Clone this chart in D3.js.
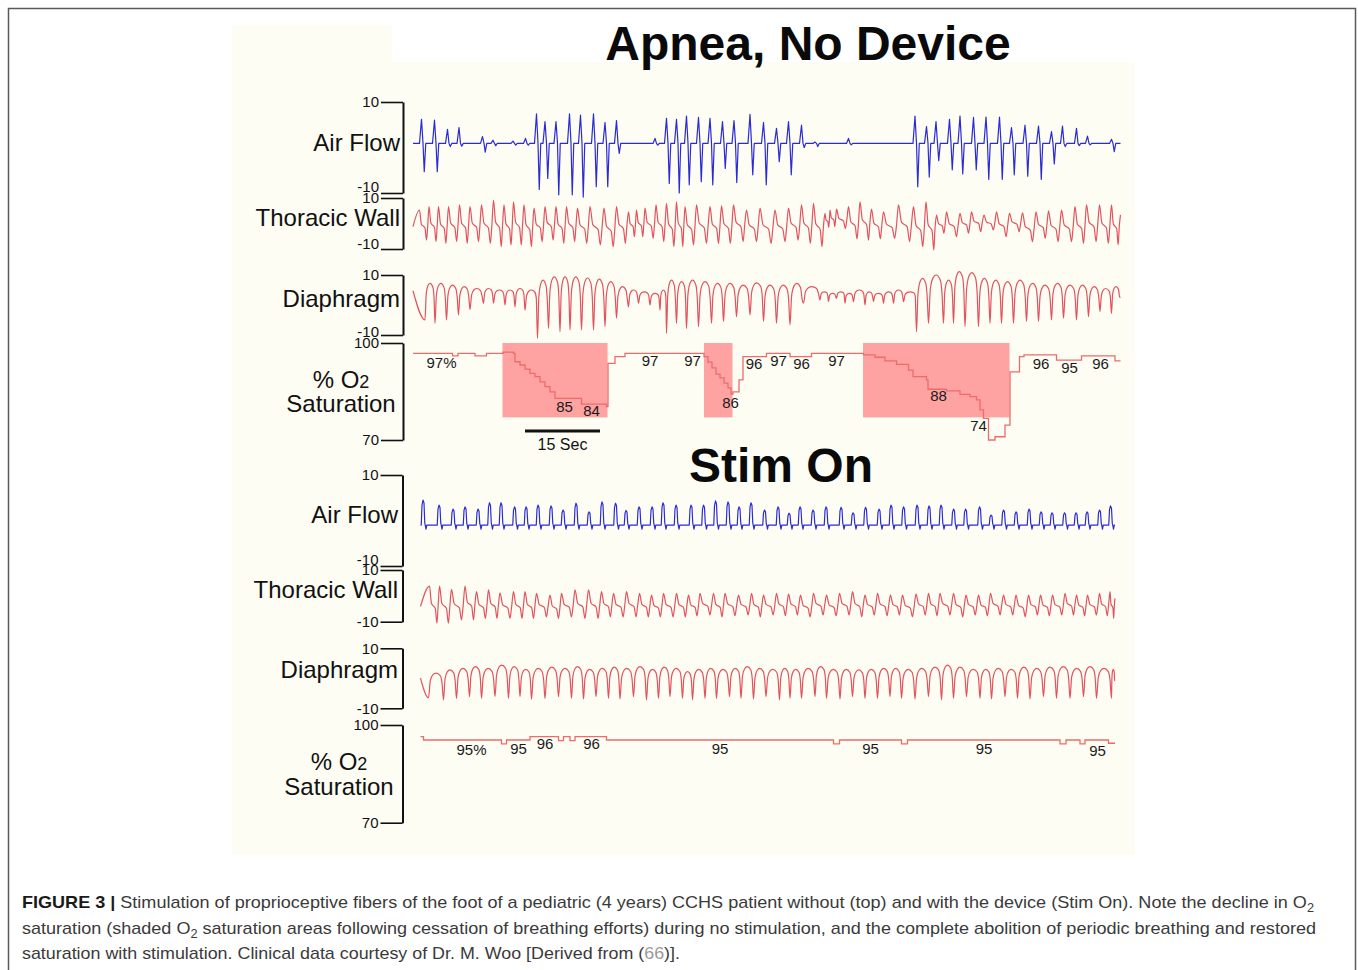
<!DOCTYPE html>
<html>
<head>
<meta charset="utf-8">
<script src="https://cdn.jsdelivr.net/npm/d3@7"></script>
<style>
  body { margin: 0; background: #fff; }
  svg { display: block; }
  text { font-family: "Liberation Sans", Arial, Helvetica, sans-serif; }
</style>
</head>
<body>
<div id="chart"></div>
<script>
// time is in seconds from the left edge of the recording,
// breathing channels in trace units (-10..10), saturation in %

const channelNames = ["Air Flow", "Thoracic Wall", "Diaphragm"];
const channelTicks = [-10, 10];
const o2Ticks = [70, 100];
const sectionTitles = ["Apnea, No Device", "Stim On"];

// ---- Apnea, no device ----
// air flow breaths: [time of inspiratory spike, spike top, expiratory spike]
const apneaAirBase = 0.9;
const apneaAir = [
  [1.7, 6.2, -5.3], [4.3, 6.0, -5.3], [6.9, 4.0, 0.2], [9.2, 4.4, 0.3], [13.9, 2.4, -1.0],
  [16.0, 1.6, 0.4], [20.0, 1.4, 0.5], [22.5, 2.0, 0.5],
  [24.7, 7.4, -9.2], [26.4, 5.7, -6.8], [28.6, 5.7, -10.4], [31.3, 7.4, -10.4], [33.5, 7.1, -10.9],
  [36.1, 7.4, -8.6], [38.4, 5.5, -8.6], [40.7, 5.9, -1.3], [48.4, 2.0, 0.5],
  [50.7, 6.4, -7.9], [52.7, 6.2, -10.0], [54.7, 6.9, -8.2], [57.1, 6.6, -7.5], [59.4, 6.4, -8.2],
  [61.9, 5.7, -4.6], [64.2, 5.9, -7.7], [67.4, 7.3, -6.0], [70.1, 5.5, -8.2], [72.7, 4.2, -3.1],
  [75.1, 5.7, -6.0], [77.7, 4.9, 0.0], [80.4, 1.2, 0.2], [87.1, 2.0, 0.6],
  [100.4, 6.9, -8.6], [102.7, 4.6, -6.5], [104.6, 5.7, -2.9], [107.3, 6.2, -4.9], [109.4, 6.9, -5.8],
  [112.1, 6.6, -4.9], [114.6, 6.7, -7.0], [117.3, 6.7, -7.0], [119.7, 4.4, -6.0], [122.4, 4.9, -6.3],
  [125.1, 4.7, -7.0], [127.7, 3.5, -3.6], [129.9, 4.7, 0.2], [132.7, 4.2, 0.4], [134.9, 2.5, 0.6],
  [139.7, 1.8, -0.9]
];
// thoracic wall cycles: [time of peak, peak, trough]
const apneaChest = [
  [1.3, 5.3, -6.5], [3.2, 6.6, -7.1], [5.1, 6.6, -7.8], [7.1, 6.6, -7.1], [9.3, 7.3, -7.8],
  [11.4, 6.6, -7.1], [13.7, 7.3, -7.8], [16.1, 9.2, -9.1], [18.2, 7.3, -8.4], [20.1, 8.5, -8.4],
  [22.2, 7.3, -9.1], [24.2, 6.0, -7.1], [26.4, 6.6, -6.5], [28.6, 6.6, -7.8], [30.7, 6.6, -7.1],
  [32.9, 6.0, -7.8], [35.4, 6.6, -8.4], [38.2, 6.0, -9.1], [40.7, 6.6, -7.8], [43.1, 4.6, -5.2],
  [44.7, 5.3, -5.2], [46.4, 6.0, -5.8], [48.6, 7.3, -7.1], [50.7, 7.9, -9.1], [52.7, 8.5, -9.1],
  [54.4, 6.6, -8.4], [56.7, 7.3, -7.8], [59.4, 6.6, -7.8], [61.7, 6.9, -7.8], [64.1, 7.3, -7.1],
  [66.7, 5.3, -7.1], [69.4, 6.0, -7.8], [72.4, 5.3, -7.1], [75.1, 6.0, -6.5], [77.7, 7.3, -7.8],
  [80.1, 7.9, -9.1], [82.4, 4.0, -1.5], [83.4, 5.3, -1.2], [84.7, 5.6, -2.0], [87.1, 6.6, -6.0],
  [89.4, 8.5, -6.5], [91.7, 5.6, -6.0], [94.1, 4.6, -5.8], [97.1, 7.3, -7.1], [100.1, 6.6, -9.1],
  [102.6, 8.5, -10.4], [104.7, 3.3, -3.8], [106.7, 4.6, -5.2], [109.4, 4.0, -3.8], [111.7, 4.6, -3.2],
  [114.2, 3.3, -2.5], [116.7, 4.6, -5.2], [119.3, 4.0, -3.2], [121.9, 4.2, -7.1], [124.6, 4.6, -5.8],
  [127.1, 5.0, -7.1], [129.7, 5.3, -7.1], [132.4, 6.6, -7.8], [134.7, 7.3, -7.1], [137.3, 7.3, -7.8],
  [139.7, 7.3, -8.4]
];
// diaphragm cycles: [time of trough, plateau top, trough]
const apneaDiaph = [
  [2.4, 7.2, -5.0], [4.4, 7.2, -6.1], [6.7, 6.6, -5.0], [9.1, 6.1, -3.3], [11.4, 5.5, -1.5],
  [14.1, 5.5, 0.6], [16.1, 5.0, 0.6], [18.4, 5.0, 0.0], [20.4, 5.5, -0.6], [22.4, 5.0, -1.7],
  [24.9, 8.3, -11.1], [27.1, 9.4, -7.8], [29.4, 9.4, -8.9], [31.4, 9.4, -8.3], [33.7, 9.0, -8.3],
  [36.1, 8.6, -8.3], [38.4, 7.8, -7.2], [40.7, 6.1, -4.4], [43.1, 5.0, -0.6], [45.1, 4.4, 0.6],
  [47.4, 3.9, 0.0], [49.4, 5.0, -1.7], [50.7, 8.3, -9.4], [52.7, 7.8, -6.1], [54.7, 8.3, -7.8],
  [57.1, 7.8, -7.2], [59.7, 7.2, -6.1], [62.1, 7.2, -5.5], [64.7, 6.6, -3.9], [67.4, 7.4, -3.3],
  [70.1, 6.6, -5.5], [72.7, 6.6, -6.1], [75.4, 7.2, -6.6], [78.1, 6.1, 0.6], [81.4, 4.4, 1.7],
  [83.1, 3.9, 1.1], [84.7, 4.4, 2.2], [86.4, 3.9, 0.6], [88.1, 5.0, 1.1], [90.4, 4.4, 0.0],
  [92.1, 3.9, 1.1], [94.1, 4.4, 0.6], [96.1, 5.0, 0.6], [98.1, 4.4, 1.1], [100.7, 8.9, -8.9],
  [103.1, 10.0, -6.1], [106.1, 8.3, -6.1], [108.1, 11.1, -6.1], [110.4, 10.8, -7.2], [113.1, 8.9, -7.2],
  [115.4, 8.3, -6.1], [117.7, 7.8, -6.1], [120.1, 8.3, -6.1], [122.7, 7.2, -5.5], [125.1, 6.6, -5.5],
  [127.7, 7.2, -5.0], [130.1, 6.6, -4.4], [132.7, 6.6, -5.0], [135.1, 6.1, -3.9], [137.4, 5.5, -2.2],
  [139.7, 6.1, -2.8]
];
// saturation steps: [time, %]
const apneaO2 = [
  [0, 96.8], [7.9, 96.0], [9.0, 96.8], [12.4, 96.0], [14.7, 96.8], [18.0, 97.2], [20.1, 96.8],
  [20.4, 94.2], [21.4, 93.2], [22.4, 91.9], [23.4, 90.6], [24.4, 89.6], [25.4, 88.0], [26.4, 86.5],
  [27.4, 84.9], [28.4, 82.9], [33.7, 81.1], [38.7, 80.3], [39.0, 93.7], [40.4, 95.8], [42.4, 96.8],
  [58.2, 95.8], [59.0, 94.1], [59.8, 92.3], [60.6, 90.4], [61.4, 89.2], [62.2, 87.6], [63.0, 86.1],
  [63.6, 84.2], [64.0, 84.9], [65.2, 88.6], [66.0, 95.8], [70.7, 96.8], [75.4, 95.8], [79.7, 96.8],
  [90.1, 96.3], [92.4, 95.6], [94.4, 94.5], [96.7, 93.4], [99.1, 91.6], [100.0, 89.6], [102.7, 88.6],
  [103.0, 85.7], [106.7, 85.2], [109.4, 84.1], [111.4, 83.4], [112.7, 82.4], [113.4, 79.3], [114.1, 76.7],
  [115.1, 70.0], [116.4, 71.0], [118.4, 74.6], [119.4, 91.1], [121.3, 95.8], [122.2, 96.3], [128.7, 94.7],
  [133.7, 96.0], [140.4, 94.5]
];
// desaturation windows: [start, end, lower %]
const apneaShaded = [[17.9, 38.9, 77.0], [58.2, 63.9, 77.0], [90.0, 119.3, 77.0]];
// saturation readings written on the trace: [time, %, text]
const apneaO2Labels = [
  [5.7, 93.9, "97%"], [30.3, 80.3, "85"], [35.7, 79.1, "84"], [47.4, 94.5, "97"], [55.9, 94.5, "97"],
  [63.5, 81.5, "86"], [68.2, 93.5, "96"], [73.1, 94.4, "97"], [77.7, 93.5, "96"], [84.7, 94.4, "97"],
  [105.1, 83.6, "88"], [113.1, 74.3, "74"], [125.6, 93.7, "96"], [131.3, 92.2, "95"], [137.5, 93.7, "96"]
];
const apneaSpan = [0, 141.5];
const scaleBar = [22.4, 37.4];   // 15 s

// ---- Stim on ----
const stimAirBase = -1.0;
// air flow breaths: [time of peak, peak]
const stimAir = [
  [2.1, 4.5], [5.3, 3.4], [8.1, 2.5], [10.5, 3.0], [13.1, 2.5], [15.4, 3.9], [17.7, 3.9], [20.4, 3.0],
  [22.7, 3.0], [25.1, 3.4], [27.7, 3.2], [30.1, 2.3], [32.7, 3.8], [35.3, 1.9], [37.9, 4.1], [40.6, 3.8],
  [42.7, 2.2], [45.3, 3.0], [47.9, 3.0], [50.1, 3.9], [52.7, 3.4], [55.7, 3.4], [58.2, 3.4], [60.6, 4.3],
  [63.1, 4.1], [65.3, 3.0], [67.7, 3.9], [70.4, 2.3], [73.1, 3.0], [75.3, 1.6], [77.5, 3.0], [80.1, 2.3],
  [82.7, 3.0], [85.7, 2.9], [88.1, 1.7], [90.6, 2.9], [93.3, 2.5], [95.7, 3.4], [98.2, 3.0], [100.9, 3.4],
  [103.3, 3.2], [105.7, 3.4], [108.2, 2.5], [110.6, 2.5], [113.4, 3.0], [115.7, 1.2], [118.2, 2.3],
  [120.7, 1.9], [123.3, 2.5], [125.7, 1.9], [127.9, 1.7], [130.4, 1.7], [132.7, 1.7], [134.9, 1.9],
  [137.4, 2.3], [139.6, 3.2]
];
const stimChest = [
  [3.3, 3.8, -10.6], [5.3, 3.8, -10.6], [7.7, 2.5, -9.3], [10.4, 3.8, -9.3], [12.7, 1.6, -8.7],
  [15.1, 2.3, -8.7], [17.4, 1.2, -8.7], [20.1, 1.6, -8.7], [22.4, 1.6, -8.7], [24.7, 1.0, -8.1],
  [27.4, 0.3, -8.7], [29.7, 1.0, -8.1], [32.4, 2.3, -8.7], [35.1, 2.3, -8.7], [37.7, 1.6, -8.1],
  [40.1, 1.0, -8.1], [42.7, 1.6, -8.1], [45.3, 1.0, -8.1], [47.7, 0.3, -8.1], [50.1, 1.0, -8.1],
  [52.7, 1.0, -8.1], [55.1, 0.3, -7.7], [57.4, 1.0, -7.4], [60.1, 1.0, -8.1], [62.4, 1.0, -7.7],
  [65.1, 0.3, -7.4], [67.7, 1.0, -8.1], [70.1, 0.3, -7.4], [72.7, 1.0, -7.7], [75.1, 0.7, -7.4],
  [77.5, 0.3, -8.1], [80.1, 1.0, -7.4], [82.7, 0.3, -7.7], [85.3, 1.0, -7.4], [87.9, 1.6, -8.1],
  [90.4, 0.3, -7.4], [92.9, 1.0, -7.7], [95.5, 0.3, -7.4], [97.9, 0.3, -8.1], [100.6, 0.7, -7.4],
  [103.1, 1.0, -7.7], [105.4, 1.0, -7.4], [108.1, 1.0, -8.1], [110.6, 0.3, -7.4], [113.1, 0.3, -7.7],
  [115.5, 1.0, -7.4], [118.1, 0.3, -7.4], [120.6, 0.3, -8.1], [123.1, 0.3, -7.4], [125.5, 0.3, -7.7],
  [127.9, 0.3, -7.4], [130.4, 1.0, -7.4], [132.7, 0.3, -7.7], [134.9, 0.3, -7.4], [137.3, 1.0, -7.7],
  [139.4, 1.6, -8.7]
];
const stimDiaph = [
  [3.1, 1.7, -6.5], [6.1, 2.8, -7.2], [8.7, 3.3, -6.7], [11.3, 3.9, -6.1], [13.7, 3.3, -6.7],
  [16.4, 4.4, -6.1], [19.1, 3.9, -6.7], [21.4, 3.0, -6.1], [23.7, 3.3, -7.0], [26.4, 3.7, -6.7],
  [29.1, 3.3, -6.1], [31.7, 3.9, -6.7], [34.1, 3.0, -6.9], [36.6, 3.3, -6.1], [39.1, 3.7, -6.7],
  [41.4, 3.3, -6.9], [44.1, 3.9, -6.1], [46.7, 3.0, -7.2], [49.1, 3.7, -6.7], [51.4, 3.3, -6.1],
  [53.9, 2.2, -6.7], [55.9, 3.0, -7.2], [58.4, 3.3, -6.7], [60.7, 3.0, -6.7], [63.3, 3.3, -6.1],
  [65.6, 3.9, -6.7], [68.1, 3.3, -6.9], [70.6, 3.0, -6.1], [73.3, 3.3, -7.2], [75.4, 3.0, -6.7],
  [77.7, 3.3, -6.7], [80.4, 3.9, -6.1], [82.7, 3.0, -6.7], [85.4, 3.0, -6.9], [87.9, 2.8, -6.1],
  [90.4, 3.0, -6.7], [92.9, 3.3, -6.7], [95.4, 3.3, -6.1], [97.7, 3.0, -6.7], [100.4, 3.3, -6.9],
  [103.1, 3.7, -6.1], [105.7, 4.4, -7.2], [108.1, 3.7, -6.7], [110.7, 3.0, -6.1], [113.4, 3.0, -6.7],
  [115.7, 3.3, -6.9], [118.4, 3.0, -6.1], [120.9, 3.7, -6.7], [123.4, 3.3, -6.9], [126.1, 3.7, -6.1],
  [128.7, 3.9, -6.7], [131.4, 3.3, -6.7], [134.1, 3.9, -6.1], [136.7, 3.3, -6.7], [139.7, 3.0, -6.7]
];
const stimO2 = [
  [1.5, 96.4], [2.1, 95.4], [17.7, 94.2], [18.7, 95.4], [23.4, 96.4], [29.1, 95.2], [30.1, 96.4],
  [31.4, 95.2], [32.4, 96.4], [38.7, 95.4], [84.1, 94.2], [85.3, 95.4], [97.7, 94.2], [98.9, 95.4],
  [129.4, 94.2], [130.6, 95.4], [133.4, 94.2], [134.4, 95.4], [139.1, 94.4]
];
const stimO2Labels = [
  [11.7, 92.5, "95%"], [21.1, 92.8, "95"], [26.4, 94.1, "96"], [35.7, 94.1, "96"],
  [61.4, 92.6, "95"], [91.5, 92.6, "95"], [114.2, 92.6, "95"], [136.9, 92.1, "95"]
];
const stimSpan = [1.5, 140.4];

// ---- layout (pixel ranges of each channel) ----
const sections = [
  { title: sectionTitles[0], titleX: 808, titleY: 60,
    air: [193, 102], chest: [249, 198], diaph: [335, 275], o2: [440, 343],
    lift: [6, 5, 3], labelY: [143, 218, 299], o2LabelX: 341, o2LabelY: [380, 404], labelRight: 400,
    airData: apneaAir, airBase: apneaAirBase, chestData: apneaChest, diaphData: apneaDiaph,
    o2Data: apneaO2, o2Labels: apneaO2Labels, shaded: apneaShaded, span: apneaSpan, axisX: 403 },
  { title: sectionTitles[1], titleX: 781, titleY: 482,
    air: [566, 475], chest: [621.7, 570], diaph: [708.3, 648.3], o2: [822.7, 725],
    lift: [6, 0, 0], labelY: [515, 590, 670], o2LabelX: 339, o2LabelY: [762, 787], labelRight: 398,
    airData: stimAir, airBase: stimAirBase, chestData: stimChest, diaphData: stimDiaph,
    o2Data: stimO2, o2Labels: stimO2Labels, shaded: [], span: stimSpan, axisX: 402.5 }
];

const width = 1358, height = 970;
const blue = "#2b2bd6", red = "#e2535e", o2Red = "#ec6c6c", shade = "#fea2a2", ink = "#111";

const svg = d3.select("#chart").append("svg")
  .attr("width", width)
  .attr("height", height);

svg.append("rect").attr("width", width).attr("height", height).attr("fill", "#fff");
// figure frame
svg.append("rect")
  .attr("x", 8.5).attr("y", 8.5).attr("width", 1347).attr("height", 990)
  .attr("fill", "none").attr("stroke", "#5a5a5a").attr("stroke-width", 1.5);
// cream backdrop of the scanned figure
svg.append("rect").attr("x", 232).attr("y", 62).attr("width", 903).attr("height", 793).attr("fill", "#fdfdf3");
svg.append("rect").attr("x", 232).attr("y", 25).attr("width", 160).attr("height", 38).attr("fill", "#fdfdf3");

const x = d3.scaleLinear().domain([0, 141.8]).range([413, 1122]);

// waveform shapes built from the per-breath readings
function airSpikes(events, base, span) {
  const pts = [[span[0], base]];
  events.forEach(([t, up, down]) => {
    pts.push([t - 0.4, base], [t, up], [t + 0.3, base], [t + 0.55, down], [t + 0.85, base]);
  });
  pts.push([span[1], base]);
  return pts;
}
function airPulses(events, base, span) {
  const pts = [[span[0], base]];
  events.forEach(([t, pk]) => {
    const h = pk - base;
    pts.push([t - 0.45, base], [t - 0.3, base + h * 0.8], [t - 0.1, pk], [t + 0.1, pk - h * 0.12],
      [t + 0.25, base + h * 0.1], [t + 0.35, base], [t + 0.5, base - 0.9], [t + 0.65, base]);
  });
  pts.push([span[1], base]);
  return pts;
}
function chestCycles(cycles, span) {
  const pts = [];
  cycles.forEach(([t, hi, lo], i) => {
    const p = (i < cycles.length - 1 ? cycles[i + 1][0] : span[1]) - t;
    const r = hi - lo, mid = lo + r * 0.45;
    if (i === 0) pts.push([span[0], mid]);
    pts.push([t, hi], [t + p * 0.2, mid + r * 0.08], [t + p * 0.58, mid - r * 0.05],
      [t + p * 0.74, lo], [t + p * 0.86, mid]);
    if (i === cycles.length - 1) pts.push([span[1], mid + r * 0.3]);
  });
  return pts;
}
function diaphCycles(cycles, span) {
  const pts = [];
  cycles.forEach(([t, top, lo], i) => {
    const p = (i < cycles.length - 1 ? cycles[i + 1][0] : span[1]) - t;
    const r = top - lo;
    if (i === 0) pts.push([span[0], top - r * 0.2]);
    pts.push([t, lo], [t + p * 0.12, top - r * 0.3], [t + p * 0.3, top - r * 0.06],
      [t + p * 0.5, top], [t + p * 0.78, top - r * 0.1], [t + p * 0.9, top - r * 0.38]);
  });
  const last = cycles[cycles.length - 1];
  pts.push([span[1], last[1] - (last[1] - last[2]) * 0.4]);
  return pts;
}

function bracket(g, scale, ticks, lift) {
  g.call(d3.axisLeft(scale).tickValues(ticks).tickSize(22).tickSizeOuter(0).tickPadding(2)
    .tickFormat(d => String(d)));
  g.attr("font-family", null).attr("font-size", 15);
  g.select(".domain").attr("stroke", ink).attr("stroke-width", 2);
  g.selectAll(".tick line").attr("stroke", ink).attr("stroke-width", 1.6);
  g.selectAll(".tick text").attr("fill", ink)
    .attr("dy", (d, i) => (i === 0 ? (0.32 - lift / 15) : 0.32) + "em");
}

sections.forEach(s => {
  const yAir = d3.scaleLinear().domain([-10, 10]).range(s.air);
  const yChest = d3.scaleLinear().domain([-10, 10]).range(s.chest);
  const yDiaph = d3.scaleLinear().domain([-10, 10]).range(s.diaph);
  const yO2 = d3.scaleLinear().domain([70, 100]).range(s.o2);
  const scales = [yAir, yChest, yDiaph];

  svg.append("text")
    .attr("x", s.titleX).attr("y", s.titleY)
    .attr("text-anchor", "middle")
    .attr("font-size", 48).attr("font-weight", "bold").attr("fill", "#0a0a0a")
    .text(s.title);

  // brackets and channel names
  scales.forEach((sc, i) => {
    bracket(svg.append("g").attr("transform", `translate(${s.axisX},0)`), sc, channelTicks, s.lift[i]);
    svg.append("text")
      .attr("x", s.labelRight).attr("y", s.labelY[i]).attr("dy", "0.35em")
      .attr("text-anchor", "end").attr("font-size", 24).attr("fill", ink)
      .text(channelNames[i]);
  });
  bracket(svg.append("g").attr("transform", `translate(${s.axisX},0)`), yO2, o2Ticks, 0);
  const o2a = svg.append("text")
    .attr("x", s.o2LabelX).attr("y", s.o2LabelY[0]).attr("dy", "0.35em")
    .attr("text-anchor", "middle").attr("font-size", 24).attr("fill", ink);
  o2a.append("tspan").text("% O");
  o2a.append("tspan").attr("font-size", 18).text("2");
  svg.append("text")
    .attr("x", s.o2LabelX).attr("y", s.o2LabelY[1]).attr("dy", "0.35em")
    .attr("text-anchor", "middle").attr("font-size", 24).attr("fill", ink)
    .text("Saturation");

  // desaturation shading
  svg.selectAll(null).data(s.shaded).enter().append("rect")
    .attr("x", d => x(d[0]))
    .attr("width", d => x(d[1]) - x(d[0]))
    .attr("y", yO2(100))
    .attr("height", d => yO2(d[2]) - yO2(100))
    .attr("fill", shade);

  // traces
  const airPts = s.airData[0].length === 3 ? airSpikes(s.airData, s.airBase, s.span)
                                           : airPulses(s.airData, s.airBase, s.span);
  svg.append("path")
    .attr("d", d3.line().x(d => x(d[0])).y(d => yAir(d[1]))(airPts))
    .attr("fill", "none").attr("stroke", blue).attr("stroke-width", 1.2).attr("stroke-linejoin", "round");

  svg.append("path")
    .attr("d", d3.line().x(d => x(d[0])).y(d => yChest(d[1])).curve(d3.curveMonotoneX)(chestCycles(s.chestData, s.span)))
    .attr("fill", "none").attr("stroke", red).attr("stroke-width", 1.2);

  svg.append("path")
    .attr("d", d3.line().x(d => x(d[0])).y(d => yDiaph(d[1])).curve(d3.curveMonotoneX)(diaphCycles(s.diaphData, s.span)))
    .attr("fill", "none").attr("stroke", red).attr("stroke-width", 1.2);

  const o2Pts = s.o2Data.concat([[s.span[1], s.o2Data[s.o2Data.length - 1][1]]]);
  svg.append("path")
    .attr("d", d3.line().x(d => x(d[0])).y(d => yO2(d[1])).curve(d3.curveStepAfter)(o2Pts))
    .attr("fill", "none").attr("stroke", o2Red).attr("stroke-width", 1.3);

  svg.selectAll(null).data(s.o2Labels).enter().append("text")
    .attr("x", d => x(d[0])).attr("y", d => yO2(d[1])).attr("dy", "0.35em")
    .attr("text-anchor", "middle").attr("font-size", 15).attr("fill", "#1a1a1a")
    .text(d => d[2]);

  if (s.shaded.length) {
    const yBar = yO2(72.8);
    svg.append("line")
      .attr("x1", x(scaleBar[0])).attr("x2", x(scaleBar[1]))
      .attr("y1", yBar).attr("y2", yBar)
      .attr("stroke", ink).attr("stroke-width", 3);
    svg.append("text")
      .attr("x", (x(scaleBar[0]) + x(scaleBar[1])) / 2).attr("y", yBar + 19)
      .attr("text-anchor", "middle").attr("font-size", 16).attr("fill", ink)
      .text((scaleBar[1] - scaleBar[0]) + " Sec");
  }
});

// caption
const cap = svg.append("g").attr("font-size", 17).attr("fill", "#3a3a3a");
const l1 = cap.append("text").attr("x", 22).attr("y", 908)
  .attr("textLength", 1292).attr("lengthAdjust", "spacingAndGlyphs");
l1.append("tspan").attr("font-weight", "bold").attr("fill", "#1a1a1a").text("FIGURE 3 |");
l1.append("tspan").text(" Stimulation of proprioceptive fibers of the foot of a pediatric (4 years) CCHS patient without (top) and with the device (Stim On). Note the decline in O");
l1.append("tspan").attr("font-size", 12).attr("dy", 4).text("2");

const l2 = cap.append("text").attr("x", 22).attr("y", 934)
  .attr("textLength", 1294).attr("lengthAdjust", "spacingAndGlyphs");
l2.append("tspan").text("saturation (shaded O");
l2.append("tspan").attr("font-size", 12).attr("dy", 4).text("2");
l2.append("tspan").attr("dy", -4).text(" saturation areas following cessation of breathing efforts) during no stimulation, and the complete abolition of periodic breathing and restored");

const l3 = cap.append("text").attr("x", 22).attr("y", 959)
  .attr("textLength", 658).attr("lengthAdjust", "spacingAndGlyphs");
l3.append("tspan").text("saturation with stimulation. Clinical data courtesy of Dr. M. Woo [Derived from (");
l3.append("tspan").attr("fill", "#9a9a9a").text("66");
l3.append("tspan").text(")].");
</script>
</body>
</html>
